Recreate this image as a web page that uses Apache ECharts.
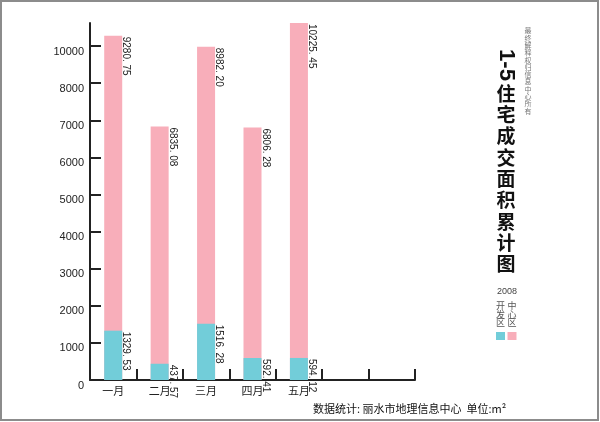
<!DOCTYPE html>
<html>
<head>
<meta charset="utf-8">
<script src="https://cdn.jsdelivr.net/npm/echarts@6/dist/echarts.min.js"></script>
<style>
html,body{margin:0;padding:0;background:#fff;}
#c{width:600px;height:422px;}
</style>
</head>
<body>
<div id="c"></div>
<script>
// ---- data ----
var categories = ['一月', '二月', '三月', '四月', '五月', '', ''];
var centerDistrict = [9280.75, 6835.08, 8982.20, 6806.28, 10225.45];   // 中心区 (pink)
var devDistrict = [1329.53, 437.57, 1516.28, 592.41, 594.12];           // 开发区 (cyan)
var tickValues = [0, 1000, 2000, 3000, 4000, 5000, 6000, 7000, 8000, 9000];
var tickLabels = ['0', '1000', '2000', '3000', '4000', '5000', '6000', '7000', '8000', '10000'];
var titleNum = '1-5';
var titleText = '住宅成交面积累计图';
var copyright = '最终解释权归信息中心所有';
var legendYear = '2008';
var legendNames = ['开发区', '中心区'];
var footer = '数据统计: 丽水市地理信息中心  单位:m²';

var PINK = '#F8AEBA';
var CYAN = '#72CDD9';

function fmt(v) { return v.toFixed(2).replace('.', '. '); }
function vert(s) { return s.split('').join('\n'); }

var chart = echarts.init(document.getElementById('c'), null, {renderer: 'canvas'});
var labelStyle = {
  show: true,
  position: [22, 1],
  rotate: -90,
  align: 'left',
  verticalAlign: 'middle',
  fontFamily: 'Liberation Sans',
  fontSize: 10,
  color: '#222',
  formatter: function (p) { return fmt(p.value); }
};

function vtext(x, y, s, font, lh, fill) {
  return {type: 'text', x: x, y: y,
    style: {text: vert(s), font: font, lineHeight: lh, fill: fill, align: 'center', verticalAlign: 'top'}};
}

chart.setOption({
  animation: false,
  backgroundColor: '#fff',
  grid: {left: 90, right: 185, top: 23, bottom: 42, containLabel: false},
  xAxis: {
    type: 'category',
    data: categories,
    axisLine: {show: true, lineStyle: {color: '#222', width: 2}},
    axisTick: {show: true, interval: 0, inside: true, length: 11, lineStyle: {color: '#222', width: 2}},
    axisLabel: {show: true, interval: 0, color: '#222', fontSize: 11, margin: 5, fontFamily: 'Noto Sans CJK SC'},
    splitLine: {show: false}
  },
  yAxis: {
    type: 'value',
    min: 0,
    max: 9623,
    interval: 1000,
    axisLine: {show: true, lineStyle: {color: '#222', width: 2}},
    axisTick: {show: true, inside: true, length: 11, customValues: tickValues, lineStyle: {color: '#222', width: 2}},
    axisLabel: {
      customValues: tickValues,
      color: '#222', fontSize: 11, margin: 6, fontFamily: 'Liberation Sans',
      verticalAlign: 'top', lineHeight: 11,
      formatter: function (v) { var i = Math.round(v / 1000); return tickLabels[i] !== undefined ? tickLabels[i] : ''; }
    },
    splitLine: {show: false}
  },
  series: [
    {
      name: legendNames[1], type: 'bar', data: centerDistrict, barWidth: 18,
      itemStyle: {color: PINK}, label: labelStyle, clip: true
    },
    {
      name: legendNames[0], type: 'bar', data: devDistrict, barWidth: 18, barGap: '-100%',
      itemStyle: {color: CYAN}, label: labelStyle, clip: true
    }
  ],
  graphic: [
    {type: 'rect', shape: {x: 1, y: 1, width: 597, height: 419}, style: {fill: 'none', stroke: '#8c8c8c', lineWidth: 2}, silent: true},
    {type: 'group', x: 506, y: 65, rotation: -Math.PI / 2, children: [
      {type: 'text', x: 0, y: 0,
        style: {text: titleNum, font: 'bold 22px "Liberation Sans"', fill: '#111', align: 'center', verticalAlign: 'middle'}}
    ]},
    vtext(506, 83, titleText, 'bold 19px "Noto Sans CJK SC"', 21.3, '#111'),
    vtext(528, 27, copyright, '7px "Noto Sans CJK SC"', 7.3, '#777'),
    {type: 'text', x: 507, y: 292,
      style: {text: legendYear, font: '9px "Liberation Sans"', fill: '#444', align: 'center', verticalAlign: 'middle'}},
    vtext(500.5, 301, legendNames[0], '9px "Noto Sans CJK SC"', 8.8, '#555'),
    vtext(512, 301, legendNames[1], '9px "Noto Sans CJK SC"', 8.8, '#555'),
    {type: 'rect', shape: {x: 496, y: 332, width: 9, height: 8}, style: {fill: CYAN}},
    {type: 'rect', shape: {x: 507.5, y: 332, width: 9, height: 8}, style: {fill: PINK}},
    {type: 'text', x: 313, y: 409,
      style: {text: footer, font: '11px "Noto Sans CJK SC"', fill: '#111', align: 'left', verticalAlign: 'middle'}}
  ]
});
</script>
</body>
</html>
